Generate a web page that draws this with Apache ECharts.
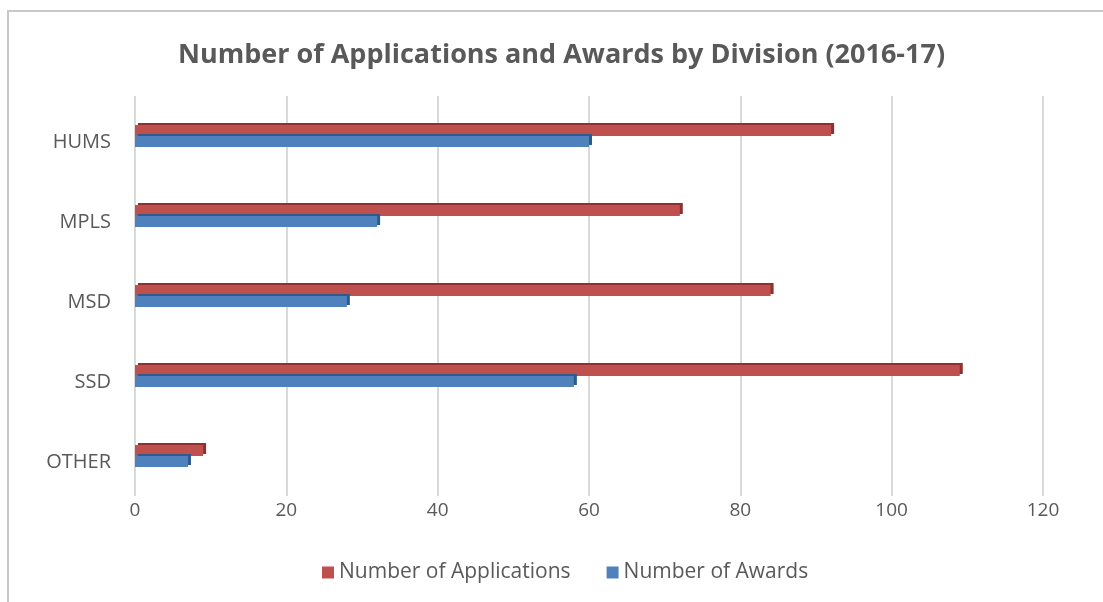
<!DOCTYPE html>
<html>
<head>
<meta charset="utf-8">
<script src="https://cdn.jsdelivr.net/npm/echarts@6/dist/echarts.min.js"></script>
<style>
  html,body{margin:0;padding:0;background:#fff;}
  #chart{width:1103px;height:602px;}
</style>
</head>
<body>
<div id="chart"></div>
<script>
// categories listed bottom to top
const divisions = ['OTHER', 'SSD', 'MSD', 'MPLS', 'HUMS']
const applications = [9, 109, 84, 72, 92]
const awards = [7, 58, 28, 32, 60]

var myChart = echarts.init(document.getElementById('chart'))

const textColor = '#595959'
const fontFamily = '"Open Sans", "Noto Sans", sans-serif'

const option = {
  animation: false,
  textStyle: { fontFamily: fontFamily },
  title: {
    text: 'Number of Applications and Awards by Division (2016-17)',
    left: 173,
    top: 37,
    textStyle: {
      fontSize: 27,
      fontWeight: 'bold',
      color: textColor,
      fontFamily: fontFamily
    }
  },
  graphic: [
    {
      type: 'polyline',
      shape: { points: [[8, 602], [8, 11], [1103, 11]] },
      style: { stroke: '#c8c8c8', lineWidth: 2, fill: null }
    }
  ],
  legend: {
    data: ['Number of Applications', 'Number of Awards'],
    bottom: 14,
    left: 317,
    itemWidth: 12,
    itemHeight: 12,
    itemGap: 36,
    icon: 'rect',
    textStyle: { fontSize: 21, color: textColor }
  },
  grid: {
    top: 96,
    bottom: 106,
    left: 135,
    right: 60
  },
  xAxis: {
    type: 'value',
    min: 0,
    max: 120,
    interval: 20,
    axisLine: { show: false },
    axisTick: { show: false },
    axisLabel: { fontSize: 19, color: textColor, margin: 5 },
    splitLine: { show: true, lineStyle: { color: '#d9d9d9', width: 2 } }
  },
  yAxis: {
    type: 'category',
    data: divisions,
    axisLine: { show: false },
    axisTick: { show: false },
    axisLabel: {
      fontSize: 20,
      color: textColor,
      margin: 24,
      verticalAlign: 'top',
      lineHeight: 12
    }
  },
  series: [
    {
      name: 'Number of Applications',
      type: 'bar',
      data: applications,
      barWidth: 11,
      barGap: '0%',
      itemStyle: {
        color: '#c0504d',
        shadowColor: '#8c3230',
        shadowBlur: 0,
        shadowOffsetX: 3,
        shadowOffsetY: -2
      }
    },
    {
      name: 'Number of Awards',
      type: 'bar',
      data: awards,
      barWidth: 11,
      barGap: '0%',
      itemStyle: {
        color: '#4f81bd',
        shadowColor: '#2f5a8c',
        shadowBlur: 0,
        shadowOffsetX: 3,
        shadowOffsetY: -2
      }
    }
  ]
}

myChart.setOption(option)
</script>
</body>
</html>
